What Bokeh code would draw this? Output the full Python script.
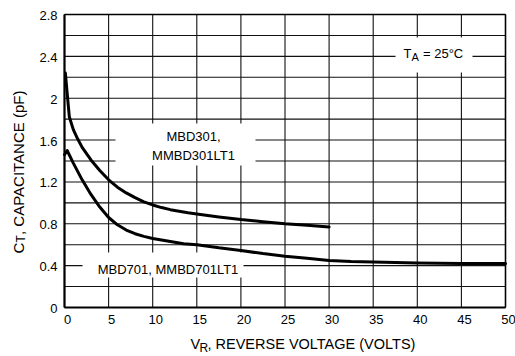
import math
from bokeh.plotting import figure
from bokeh.models import Range1d, Label
from bokeh.core.properties import value
from bokeh.embed import file_html
from bokeh.resources import INLINE

# ---- data ----
vr_301 = [0.1, 0.3, 0.55, 1.0, 1.5, 2, 3, 4, 5, 6, 7, 8, 9, 10, 11, 12, 13, 14, 15,
          17.5, 20, 22.5, 25, 27.5, 30]
ct_301 = [2.24, 2.05, 1.82, 1.70, 1.61, 1.53, 1.41, 1.31, 1.22, 1.15, 1.095, 1.05, 1.01, 0.98,
          0.955, 0.935, 0.92, 0.905, 0.893, 0.865, 0.84, 0.82, 0.80, 0.785, 0.77]

vr_701 = [0, 0.3, 1, 2, 3, 4, 5, 6, 7, 8, 9, 10, 11, 12, 13.5, 15, 17.5, 20, 22.5, 25,
          27.5, 30, 32.5, 35, 40, 45, 50]
ct_701 = [1.46, 1.50, 1.38, 1.22, 1.08, 0.96, 0.86, 0.79, 0.74, 0.705, 0.68, 0.66, 0.645,
          0.63, 0.61, 0.60, 0.57, 0.545, 0.515, 0.49, 0.47, 0.45, 0.44, 0.435, 0.425, 0.42, 0.42]

x_ticks = [0, 5, 10, 15, 20, 25, 30, 35, 40, 45, 50]
x_tick_labels = ["0", "5", "10", "15", "20", "25", "30", "35", "40", "45", "50"]
y_ticks = [0, 0.4, 0.8, 1.2, 1.6, 2, 2.4, 2.8]
y_tick_labels = ["0", "0.4", "0.8", "1.2", "1.6", "2", "2.4", "2.8"]
y_grid = [0, 0.2, 0.4, 0.6, 0.8, 1.0, 1.2, 1.4, 1.6, 1.8, 2.0, 2.2, 2.4, 2.6, 2.8]

X_MIN, X_MAX = 0, 50
Y_MIN, Y_MAX = 0, 2.8

# ---- layout (pixels of the 515x356 canvas) ----
W, H = 515, 356
PX_LEFT, PX_RIGHT, PX_TOP, PX_BOTTOM = 64, 505, 14, 307
SX = (PX_RIGHT - PX_LEFT) / (X_MAX - X_MIN)
SY = (PX_BOTTOM - PX_TOP) / (Y_MAX - Y_MIN)


def fx(px):
    return X_MIN + (px - PX_LEFT) / SX


def fy(py):
    return Y_MIN + (PX_BOTTOM - py) / SY


FONT = "Liberation Sans"
INK = "black"

p = figure(width=W, height=H, output_backend="svg", toolbar_location=None,
           x_range=Range1d(fx(0), fx(W)), y_range=Range1d(fy(H), fy(0)),
           x_axis_location=None, y_axis_location=None,
           min_border=0, min_border_left=0, min_border_right=0,
           min_border_top=0, min_border_bottom=0)
p.grid.visible = False
p.outline_line_color = None
p.background_fill_color = "white"
p.border_fill_color = "white"

# grid
p.segment(x0=x_ticks, x1=x_ticks, y0=[Y_MIN] * len(x_ticks), y1=[Y_MAX] * len(x_ticks),
          line_color="#111111", line_width=1.1)
p.segment(x0=[X_MIN] * len(y_grid), x1=[X_MAX] * len(y_grid), y0=y_grid, y1=y_grid,
          line_color="#111111", line_width=1.1)

# white backgrounds of the in-plot labels (cut the grid)
box_left = [fx(115), fx(82), fx(395)]
box_right = [fx(255), fx(243), fx(472)]
box_bottom = [fy(165), fy(277), fy(72)]
box_top = [fy(123), fy(252), fy(37)]
p.quad(left=box_left, right=box_right, bottom=box_bottom, top=box_top,
       fill_color="white", line_color=None)

# frame
p.segment(x0=[X_MIN, X_MIN], x1=[X_MAX, X_MIN], y0=[Y_MIN, Y_MIN], y1=[Y_MIN, Y_MAX],
          line_color=INK, line_width=2.2)
p.segment(x0=[X_MIN, X_MAX], x1=[X_MAX, X_MAX], y0=[Y_MAX, Y_MIN], y1=[Y_MAX, Y_MAX],
          line_color=INK, line_width=1.5)

# curves
p.line(vr_301, ct_301, line_width=3, line_color=INK, line_join="round", line_cap="round")
p.line(vr_701, ct_701, line_width=3, line_color=INK, line_join="round", line_cap="round")

# tick labels
p.text(x=x_ticks, y=[Y_MIN] * len(x_ticks), text=x_tick_labels, x_offset=3, y_offset=12,
       text_align="center", text_baseline="middle", text_font=value(FONT),
       text_font_size="13px", text_color=INK)
p.text(x=[X_MIN] * len(y_ticks), y=y_ticks, text=y_tick_labels, x_offset=-7, y_offset=1,
       text_align="right", text_baseline="middle", text_font=value(FONT),
       text_font_size="13px", text_color=INK)


def lab(px, py, text, size="13px", align="left", angle=0):
    p.add_layout(Label(x=fx(px), y=fy(py), text=text, text_font=FONT, text_font_size=size,
                       text_color=INK, text_align=align, text_baseline="middle",
                       angle=angle))


lab(193, 136, "MBD301,", align="center")
lab(193, 155, "MMBD301LT1", align="center")
lab(167.5, 269, "MBD701, MMBD701LT1", align="center")

# T_A = 25°C
lab(403, 53, "T")
lab(411, 56.5, "A", size="11px")
lab(422.5, 53, "= 25°C")

# x axis title
lab(190, 343.5, "V", size="14.5px")
lab(199, 347, "R", size="12px")
lab(207, 343.5, ", REVERSE VOLTAGE (VOLTS)", size="14.5px")

# y axis title (rotated)
lab(17.5, 253, "C", size="15px", angle=math.pi / 2)
lab(20.5, 242, "T", size="12px", angle=math.pi / 2)
lab(17.5, 234.5, ", CAPACITANCE (pF)", size="15px", angle=math.pi / 2)

open("out.html", "w").write(file_html(p, INLINE))
